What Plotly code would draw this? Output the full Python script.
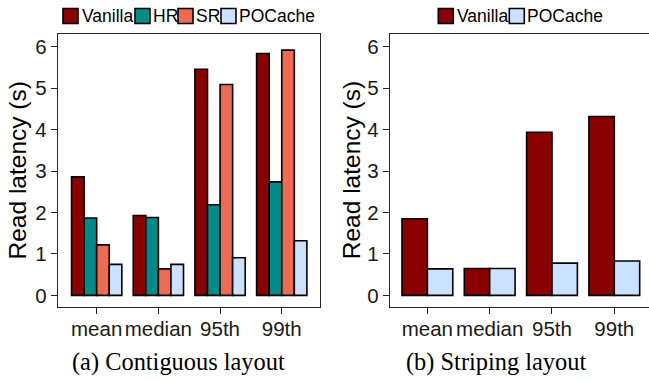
import plotly.graph_objects as go

# ---- data ----
categories = ["mean", "median", "95th", "99th"]
contig_vanilla = [2.86, 1.93, 5.46, 5.84]
contig_hr = [1.87, 1.88, 2.19, 2.74]
contig_sr = [1.22, 0.64, 5.09, 5.92]
contig_pocache = [0.75, 0.75, 0.91, 1.32]
stripe_vanilla = [1.85, 0.65, 3.94, 4.32]
stripe_pocache = [0.64, 0.65, 0.78, 0.83]
y_ticks = [0, 1, 2, 3, 4, 5, 6]
series_names = ["Vanilla", "HR", "SR", "POCache"]
captions = ["(a) Contiguous layout", "(b) Striping layout"]
y_title = "Read latency (s)"

# ---- style ----
W, H = 649, 381
COLORS = {"Vanilla": "#8B0000", "HR": "#008B8B", "SR": "#EE6A50", "POCache": "#CAE1FF"}
SANS = "Liberation Sans, Arial, Helvetica, sans-serif"
SERIF = "Liberation Serif, Times New Roman, serif"
AX = "#262626"


def px_x(x):
    return x / W


def px_y(y):
    return 1 - y / H


fig = go.Figure()

for name, vals in zip(series_names, [contig_vanilla, contig_hr, contig_sr, contig_pocache]):
    fig.add_trace(go.Bar(x=categories, y=vals, name=name, xaxis="x", yaxis="y",
                         marker=dict(color=COLORS[name], line=dict(color="black", width=1.6)),
                         showlegend=False))
for name, vals in zip(["Vanilla", "POCache"], [stripe_vanilla, stripe_pocache]):
    fig.add_trace(go.Bar(x=categories, y=vals, name=name, xaxis="x2", yaxis="y2",
                         marker=dict(color=COLORS[name], line=dict(color="black", width=1.6)),
                         showlegend=False))

ydom = [px_y(307), px_y(34)]
TICKFONT = dict(family=SANS, size=20.5, color="#1a1a1a")
common_y = dict(range=[-0.28, 6.31], tickvals=y_ticks, showgrid=False, zeroline=False,
                showline=True, linecolor=AX, linewidth=1.4, ticks="outside", ticklen=6,
                tickwidth=1.3, tickcolor=AX, tickfont=TICKFONT, domain=ydom)
common_x = dict(showgrid=False, zeroline=False, showline=True, linecolor=AX, linewidth=1.4,
                ticks="outside", ticklen=6, tickwidth=1.3, tickcolor=AX, mirror=True,
                tickfont=TICKFONT, categoryorder="array", categoryarray=categories,
                ticklabelstandoff=-3)

fig.update_layout(
    width=W, height=H, margin=dict(l=0, r=0, t=0, b=0),
    paper_bgcolor="white", plot_bgcolor="white",
    barmode="group", bargap=0.185, bargroupgap=0,
    xaxis=dict(domain=[px_x(58), px_x(320)], range=[-0.627, 3.62], anchor="y", **common_x),
    yaxis=dict(anchor="x", mirror=True, **common_y),
    xaxis2=dict(domain=[px_x(390), 1.0], range=[-0.6, 3.557], anchor="y2", **common_x),
    yaxis2=dict(anchor="x2", mirror=False, **common_y),
    showlegend=False,
)

annotations = []
shapes = []
# y-axis titles
for xc in [17, 351.7]:
    annotations.append(dict(x=px_x(xc), y=px_y(170.5), xref="paper", yref="paper", text=y_title,
                            textangle=-90, showarrow=False, xanchor="center", yanchor="middle",
                            font=dict(family=SANS, size=24.5, color="black")))
# captions
for xc, cap in zip([178.5, 495.8], captions):
    annotations.append(dict(x=px_x(xc), y=px_y(362), xref="paper", yref="paper", text=cap,
                            showarrow=False, xanchor="center", yanchor="middle",
                            font=dict(family=SERIF, size=24.4, color="black")))

# manual legends: (key_x_left, text_x_left, name)
legend_a = [(63, 80, "Vanilla"), (135, 151, "HR"), (178, 194, "SR"), (221, 237, "POCache")]
legend_b = [(438.3, 455, "Vanilla"), (509.3, 525, "POCache")]
for kx, tx, name in legend_a + legend_b:
    shapes.append(dict(type="rect", xref="paper", yref="paper",
                       x0=px_x(kx), x1=px_x(kx + 15), y0=px_y(23.5), y1=px_y(8.5),
                       fillcolor=COLORS[name], line=dict(color="black", width=1.6)))
    annotations.append(dict(x=px_x(tx), y=px_y(16), xref="paper", yref="paper", text=name,
                            showarrow=False, xanchor="left", yanchor="middle",
                            font=dict(family=SANS, size=17.5, color="black")))

fig.update_layout(annotations=annotations, shapes=shapes)
fig.write_html("out.html")
